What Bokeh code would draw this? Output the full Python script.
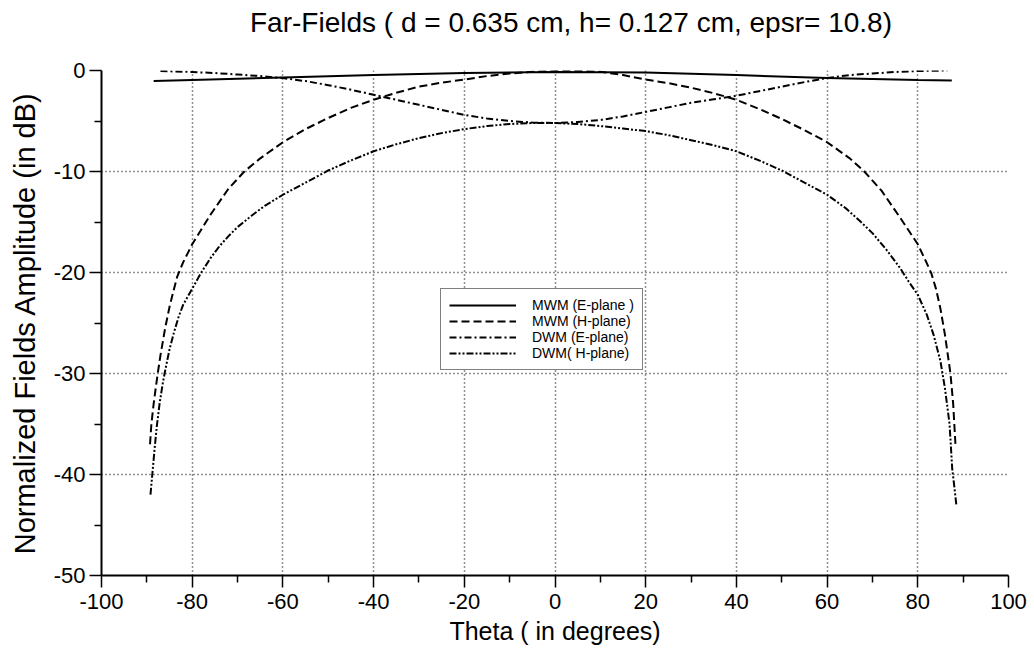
from bokeh.plotting import figure
from bokeh.models import Range1d, FixedTicker, Div
from bokeh.layouts import column
from bokeh.embed import file_html
from bokeh.resources import INLINE

# ---- data ----
title_text = "Far-Fields ( d = 0.635 cm, h= 0.127 cm, epsr= 10.8)"

theta_mwm_e = [-88.5, -80, -60, -40, -20, 0, 20, 40, 60, 80, 87.5]
mwm_e = [-1.05, -0.95, -0.7, -0.45, -0.25, -0.15, -0.2, -0.45, -0.75, -0.95, -1.0]

theta_mwm_h = [-89.3, -89.0, -88.5, -88.0, -87.6, -87.0, -86.0, -85.0, -84.0, -83.3, -82.0,
               -80, -76, -72, -68.5, -65, -60, -55, -50, -45, -40, -35, -30, -25, -20, -15,
               -10, -5, 0, 5, 10, 15, 20, 25, 30, 35, 40, 45, 50, 55, 60, 65, 68.2, 72, 76,
               80, 82, 83, 84, 85, 86, 87.2, 87.8, 88.3]
mwm_h = [-37, -35, -33, -31.3, -30, -28.2, -25.6, -23.4, -21.6, -20.4, -19.0,
         -17.2, -14.3, -11.7, -10.0, -8.7, -7.1, -5.8, -4.7, -3.7, -2.9, -2.2, -1.6, -1.2, -0.9, -0.55,
         -0.3, -0.12, -0.05, -0.03, -0.12, -0.45, -0.9, -1.25, -1.7, -2.25, -2.9, -3.8, -4.8, -5.9, -7.1, -8.7, -10.0, -11.9, -14.5,
         -17.2, -19.1, -20.1, -21.6, -23.6, -26.2, -30, -33, -37]

theta_dwm_e = [-87, -80, -75, -70, -65, -60, -55, -50, -45, -40, -35, -30, -25, -20, -15, -10,
               -5, 0, 5, 10, 15, 20, 25, 30, 35, 40, 45, 50, 55, 60, 65, 70, 75, 80, 86.5]
dwm_e = [-0.05, -0.15, -0.25, -0.4, -0.55, -0.75, -1.05, -1.45, -1.9, -2.4, -2.9, -3.4, -3.9, -4.4, -4.75, -5.0,
         -5.15, -5.2, -5.1, -4.9, -4.55, -4.1, -3.65, -3.2, -2.85, -2.5, -2.05, -1.6, -1.15, -0.75, -0.45, -0.3, -0.15, -0.05, 0.0]

theta_dwm_h = [-89.2, -89.0, -88.8, -88.3, -87.8, -87.2, -86.5, -86, -85, -84, -83, -82, -80, -78,
               -76, -74, -72, -70, -67, -64, -60, -55, -50, -45, -40, -35, -30, -25, -20, -15,
               -10, -5, 0, 5, 10, 15, 20, 25, 30, 35, 40, 45, 50, 55, 60, 64, 67, 70, 73, 76,
               78, 80, 82, 83.5, 85, 86, 87, 87.6, 88, 88.5]
dwm_h = [-42, -41, -40, -37.5, -35.2, -33, -31, -29.8, -27.6, -25.9, -24.4, -23.2, -21.6, -20.0,
         -18.6, -17.4, -16.4, -15.5, -14.4, -13.4, -12.3, -11.1, -9.9, -8.9, -8.0, -7.3, -6.7, -6.2, -5.8, -5.5,
         -5.3, -5.2, -5.2, -5.3, -5.5, -5.75, -6.0, -6.4, -6.9, -7.4, -8.0, -8.9, -9.9, -11.1, -12.3, -13.6, -14.8, -16.1, -17.7, -19.5,
         -20.9, -22.2, -24.2, -26.2, -28.8, -31.5, -35, -39.5, -41, -43]

x_ticks = [-100, -80, -60, -40, -20, 0, 20, 40, 60, 80, 100]
x_minor = [-90, -70, -50, -30, -10, 10, 30, 50, 70, 90]
y_ticks = [-50, -40, -30, -20, -10, 0]
y_minor = [-45, -35, -25, -15, -5]

FONT = "Liberation Sans"
TITLE_H = 42

title_div = Div(
    text=('<div style="font-family:\'Liberation Sans\';font-size:28px;line-height:32px;'
          'margin:0;padding:7px 0 0 250px;white-space:nowrap;color:black;">'
          + title_text + '</div>'),
    width=1030, height=TITLE_H, margin=0)

p = figure(width=1030, height=652 - TITLE_H, output_backend="svg", toolbar_location=None,
           x_range=Range1d(-100, 100), y_range=Range1d(-50, 0),
           min_border_left=101, min_border_right=22, min_border_top=70 - TITLE_H,
           min_border_bottom=77, margin=0)
p.outline_line_color = None
p.background_fill_color = "white"
p.border_fill_color = "white"

p.xaxis.ticker = FixedTicker(ticks=x_ticks, minor_ticks=x_minor)
p.yaxis.ticker = FixedTicker(ticks=y_ticks, minor_ticks=y_minor)
p.xaxis.major_label_overrides = {t: str(t) for t in x_ticks}
p.yaxis.major_label_overrides = {t: str(t) for t in y_ticks}

for ax in (p.xaxis, p.yaxis):
    ax.axis_line_width = 2
    ax.axis_line_color = "black"
    ax.major_tick_line_color = "black"
    ax.minor_tick_line_color = "black"
    ax.major_tick_line_width = 1.5
    ax.minor_tick_line_width = 1.5
    ax.major_tick_in = 0
    ax.major_tick_out = 12
    ax.minor_tick_in = 0
    ax.minor_tick_out = 7
    ax.major_label_text_font = FONT
    ax.major_label_text_font_size = "22px"
    ax.major_label_text_color = "black"
    ax.axis_label_text_font = FONT
    ax.axis_label_text_font_style = "normal"
    ax.axis_label_text_color = "black"

p.xaxis.axis_label = "Theta ( in degrees)"
p.yaxis.axis_label = "Normalized Fields Amplitude (in dB)"
p.xaxis.axis_label_text_font_size = "25px"
p.yaxis.axis_label_text_font_size = "29px"
p.xaxis.major_label_standoff = 6
p.yaxis.major_label_standoff = 4
p.xaxis.axis_label_standoff = 5
p.yaxis.axis_label_standoff = 10

for g in (p.xgrid, p.ygrid):
    g.grid_line_color = "#222222"
    g.grid_line_dash = "1 3"
    g.grid_line_width = 1.5

p.line(theta_mwm_e, mwm_e, line_color="black", line_width=2, legend_label="MWM (E-plane )")
p.line(theta_mwm_h, mwm_h, line_color="black", line_width=2, line_dash="8 4",
       legend_label="MWM (H-plane)")
p.line(theta_dwm_e, dwm_e, line_color="black", line_width=2, line_dash="7 3 2 3",
       legend_label="DWM (E-plane)")
p.line(theta_dwm_h, dwm_h, line_color="black", line_width=2, line_dash="7 2 2 2 2 2",
       legend_label="DWM( H-plane)")

lg = p.legend[0]
lg.location = (339, 205)
lg.border_line_color = "black"
lg.border_line_width = 1.5
lg.background_fill_color = "white"
lg.background_fill_alpha = 1.0
lg.label_text_font = FONT
lg.label_text_font_size = "14px"
lg.label_text_color = "black"
lg.glyph_width = 67
lg.glyph_height = 14
lg.label_height = 14
lg.label_standoff = 16
lg.spacing = 0
lg.padding = 8
lg.margin = 0

layout = column(title_div, p, spacing=0)
open("out.html", "w").write(file_html(layout, INLINE))
